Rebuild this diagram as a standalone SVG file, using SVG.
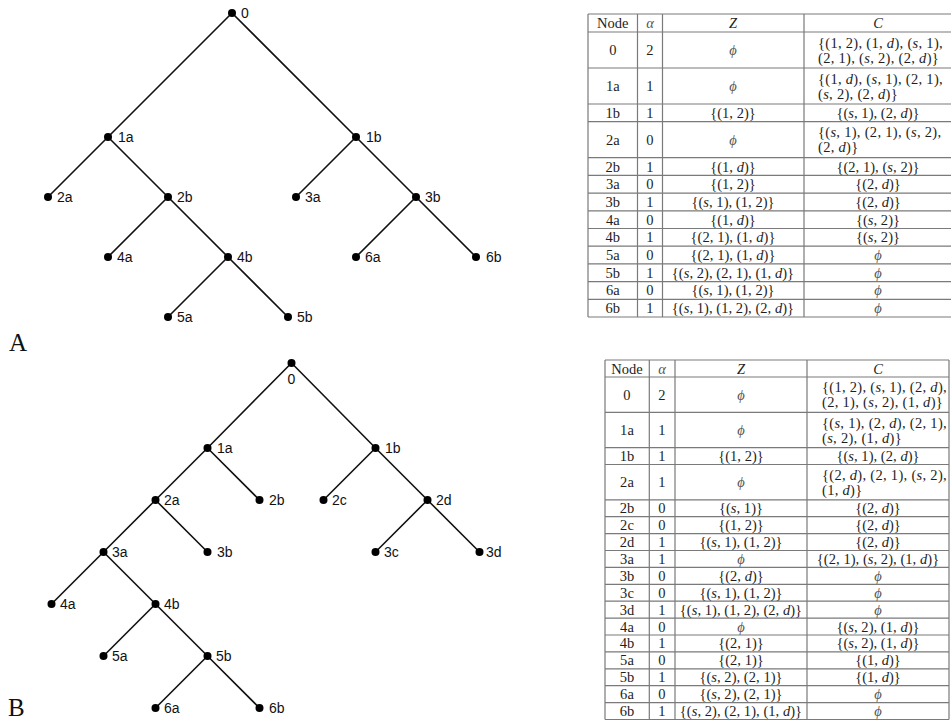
<svg xmlns="http://www.w3.org/2000/svg" width="951" height="721" viewBox="0 0 951 721">
<style>
.edge{stroke:#111;stroke-width:1.6;fill:none;stroke-linecap:round}
.dot{fill:#000}
.lbl{font-family:"Liberation Sans",Arial,sans-serif;font-size:14px;fill:#111}
.big{font-family:"Liberation Serif","Times New Roman",serif;font-size:25px;fill:#111}
.grid{stroke:#7a7a7a;stroke-width:1.2;fill:none}
.t{font-family:"Liberation Serif","DejaVu Serif",serif;font-size:14.5px;fill:#1e1e1e;text-anchor:middle;letter-spacing:0.05px}
.tl{font-family:"Liberation Serif","DejaVu Serif",serif;font-size:14.5px;fill:#1e1e1e;text-anchor:start;letter-spacing:0.3px}
.i{font-style:italic}
.g{fill:#555}
</style>
<rect width="951" height="721" fill="#fff"/>

<!-- ===== Tree A ===== -->
<g id="treeA-edges">
<path class="edge" d="M232,13L108,137M232,13L356,137M108,137L48,197M108,137L168,197M356,137L296,197M356,137L416,197M168,197L108,257M168,197L228,257M416,197L356,257M416,197L476,257M228,257L168,317M228,257L288,317"/>
</g>
<g id="A-0"><circle class="dot" cx="232" cy="13" r="4"/><text class="lbl" x="241" y="18">0</text></g>
<g id="A-1a"><circle class="dot" cx="108" cy="137" r="4"/><text class="lbl" x="118" y="142">1a</text></g>
<g id="A-1b"><circle class="dot" cx="356" cy="137" r="4"/><text class="lbl" x="366" y="142">1b</text></g>
<g id="A-2a"><circle class="dot" cx="48" cy="197" r="4"/><text class="lbl" x="57" y="202">2a</text></g>
<g id="A-2b"><circle class="dot" cx="168" cy="197" r="4"/><text class="lbl" x="177" y="202">2b</text></g>
<g id="A-3a"><circle class="dot" cx="296" cy="197" r="4"/><text class="lbl" x="305" y="202">3a</text></g>
<g id="A-3b"><circle class="dot" cx="416" cy="197" r="4"/><text class="lbl" x="425" y="202">3b</text></g>
<g id="A-4a"><circle class="dot" cx="108" cy="257" r="4"/><text class="lbl" x="117" y="262">4a</text></g>
<g id="A-4b"><circle class="dot" cx="228" cy="257" r="4"/><text class="lbl" x="237" y="262">4b</text></g>
<g id="A-6a"><circle class="dot" cx="356" cy="257" r="4"/><text class="lbl" x="365" y="262">6a</text></g>
<g id="A-6b"><circle class="dot" cx="476" cy="257" r="4"/><text class="lbl" x="486" y="262">6b</text></g>
<g id="A-5a"><circle class="dot" cx="168" cy="317" r="4"/><text class="lbl" x="177" y="322">5a</text></g>
<g id="A-5b"><circle class="dot" cx="288" cy="317" r="4"/><text class="lbl" x="297" y="322">5b</text></g>
<text class="big" x="9" y="351">A</text>

<!-- ===== Tree B ===== -->
<g id="treeB-edges">
<path class="edge" d="M291.5,363L207.5,448M291.5,363L375.5,448M207.5,448L155.5,500M207.5,448L259.5,500M375.5,448L323.5,500M375.5,448L427.5,500M155.5,500L103.5,552M155.5,500L207.5,552M427.5,500L375.5,552M427.5,500L479.5,552M103.5,552L51.5,604M103.5,552L155.5,604M155.5,604L103.5,656M155.5,604L207.5,656M207.5,656L155.5,708M207.5,656L259.5,708"/>
</g>
<g id="B-0"><circle class="dot" cx="291.5" cy="363" r="4"/><text class="lbl" x="291.5" y="384" text-anchor="middle">0</text></g>
<g id="B-1a"><circle class="dot" cx="207.5" cy="448" r="4"/><text class="lbl" x="217" y="453">1a</text></g>
<g id="B-1b"><circle class="dot" cx="375.5" cy="448" r="4"/><text class="lbl" x="385" y="453">1b</text></g>
<g id="B-2a"><circle class="dot" cx="155.5" cy="500" r="4"/><text class="lbl" x="164" y="505">2a</text></g>
<g id="B-2b"><circle class="dot" cx="259.5" cy="500" r="4"/><text class="lbl" x="269" y="505">2b</text></g>
<g id="B-2c"><circle class="dot" cx="323.5" cy="500" r="4"/><text class="lbl" x="332" y="505">2c</text></g>
<g id="B-2d"><circle class="dot" cx="427.5" cy="500" r="4"/><text class="lbl" x="436" y="505">2d</text></g>
<g id="B-3a"><circle class="dot" cx="103.5" cy="552" r="4"/><text class="lbl" x="112" y="557">3a</text></g>
<g id="B-3b"><circle class="dot" cx="207.5" cy="552" r="4"/><text class="lbl" x="217" y="557">3b</text></g>
<g id="B-3c"><circle class="dot" cx="375.5" cy="552" r="4"/><text class="lbl" x="384" y="557">3c</text></g>
<g id="B-3d"><circle class="dot" cx="479.5" cy="552" r="4"/><text class="lbl" x="486" y="557">3d</text></g>
<g id="B-4a"><circle class="dot" cx="51.5" cy="604" r="4"/><text class="lbl" x="60" y="609">4a</text></g>
<g id="B-4b"><circle class="dot" cx="155.5" cy="604" r="4"/><text class="lbl" x="164" y="609">4b</text></g>
<g id="B-5a"><circle class="dot" cx="103.5" cy="656" r="4"/><text class="lbl" x="112" y="661">5a</text></g>
<g id="B-5b"><circle class="dot" cx="207.5" cy="656" r="4"/><text class="lbl" x="216" y="661">5b</text></g>
<g id="B-6a"><circle class="dot" cx="155.5" cy="708" r="4"/><text class="lbl" x="164" y="713">6a</text></g>
<g id="B-6b"><circle class="dot" cx="259.5" cy="708" r="4"/><text class="lbl" x="269" y="713">6b</text></g>
<text class="big" x="8" y="716">B</text>

<!-- ===== Table A ===== -->
<g id="tableA">
<path class="grid" d="M588,14H955M588,32H955M588,68H955M588,104H955M588,121.7H955M588,157.7H955M588,175.4H955M588,193.1H955M588,210.8H955M588,228.5H955M588,246.2H955M588,263.9H955M588,281.6H955M588,299.3H955M588,317H955M588,14V317M637.5,14V317M662.5,14V317M804,14V317"/>
<text class="t" x="612.8" y="28">Node</text><text class="t i g" x="650" y="28">α</text><text class="t i" x="733" y="28">Z</text><text class="t i" x="878" y="28">C</text>

<text class="t" x="612.8" y="55">0</text><text class="t" x="650" y="55">2</text><text class="t i g" x="733" y="55">ϕ</text>
<text class="tl" x="818" y="47.5">{(1, 2), (1, <tspan class="i">d</tspan>), (<tspan class="i">s</tspan>, 1),</text>
<text class="tl" x="818" y="62.5">(2, 1), (<tspan class="i">s</tspan>, 2), (2, <tspan class="i">d</tspan>)}</text>

<text class="t" x="612.8" y="91">1a</text><text class="t" x="650" y="91">1</text><text class="t i g" x="733" y="91">ϕ</text>
<text class="tl" x="818" y="83.5">{(1, <tspan class="i">d</tspan>), (<tspan class="i">s</tspan>, 1), (2, 1),</text>
<text class="tl" x="818" y="98.5">(<tspan class="i">s</tspan>, 2), (2, <tspan class="i">d</tspan>)}</text>

<text class="t" x="612.8" y="117.8">1b</text><text class="t" x="650" y="117.8">1</text><text class="t" x="733" y="117.8">{(1, 2)}</text><text class="t" x="878" y="117.8">{(<tspan class="i">s</tspan>, 1), (2, <tspan class="i">d</tspan>)}</text>

<text class="t" x="612.8" y="144.7">2a</text><text class="t" x="650" y="144.7">0</text><text class="t i g" x="733" y="144.7">ϕ</text>
<text class="tl" x="818" y="137.2">{(<tspan class="i">s</tspan>, 1), (2, 1), (<tspan class="i">s</tspan>, 2),</text>
<text class="tl" x="818" y="152.2">(2, <tspan class="i">d</tspan>)}</text>

<text class="t" x="612.8" y="171.5">2b</text><text class="t" x="650" y="171.5">1</text><text class="t" x="733" y="171.5">{(1, <tspan class="i">d</tspan>)}</text><text class="t" x="878" y="171.5">{(2, 1), (<tspan class="i">s</tspan>, 2)}</text>
<text class="t" x="612.8" y="189.2">3a</text><text class="t" x="650" y="189.2">0</text><text class="t" x="733" y="189.2">{(1, 2)}</text><text class="t" x="878" y="189.2">{(2, <tspan class="i">d</tspan>)}</text>
<text class="t" x="612.8" y="206.9">3b</text><text class="t" x="650" y="206.9">1</text><text class="t" x="733" y="206.9">{(<tspan class="i">s</tspan>, 1), (1, 2)}</text><text class="t" x="878" y="206.9">{(2, <tspan class="i">d</tspan>)}</text>
<text class="t" x="612.8" y="224.6">4a</text><text class="t" x="650" y="224.6">0</text><text class="t" x="733" y="224.6">{(1, <tspan class="i">d</tspan>)}</text><text class="t" x="878" y="224.6">{(<tspan class="i">s</tspan>, 2)}</text>
<text class="t" x="612.8" y="242.3">4b</text><text class="t" x="650" y="242.3">1</text><text class="t" x="733" y="242.3">{(2, 1), (1, <tspan class="i">d</tspan>)}</text><text class="t" x="878" y="242.3">{(<tspan class="i">s</tspan>, 2)}</text>
<text class="t" x="612.8" y="260">5a</text><text class="t" x="650" y="260">0</text><text class="t" x="733" y="260">{(2, 1), (1, <tspan class="i">d</tspan>)}</text><text class="t i g" x="878" y="260">ϕ</text>
<text class="t" x="612.8" y="277.7">5b</text><text class="t" x="650" y="277.7">1</text><text class="t" x="733" y="277.7">{(<tspan class="i">s</tspan>, 2), (2, 1), (1, <tspan class="i">d</tspan>)}</text><text class="t i g" x="878" y="277.7">ϕ</text>
<text class="t" x="612.8" y="295.4">6a</text><text class="t" x="650" y="295.4">0</text><text class="t" x="733" y="295.4">{(<tspan class="i">s</tspan>, 1), (1, 2)}</text><text class="t i g" x="878" y="295.4">ϕ</text>
<text class="t" x="612.8" y="313.1">6b</text><text class="t" x="650" y="313.1">1</text><text class="t" x="733" y="313.1">{(<tspan class="i">s</tspan>, 1), (1, 2), (2, <tspan class="i">d</tspan>)}</text><text class="t i g" x="878" y="313.1">ϕ</text>
</g>

<!-- ===== Table B ===== -->
<g id="tableB">
<path class="grid" d="M605,360H949M605,377H949M605,412.3H949M605,447.6H949M605,464.5H949M605,499.8H949M605,516.7H949M605,533.6H949M605,550.5H949M605,567.4H949M605,584.3H949M605,601.2H949M605,618.1H949M605,635H949M605,651.9H949M605,668.8H949M605,685.7H949M605,702.6H949M605,719.5H949M605,360V719.5M649.3,360V719.5M675,360V719.5M807,360V719.5M949,360V719.5"/>
<text class="t" x="627" y="373.5">Node</text><text class="t i g" x="662" y="373.5">α</text><text class="t i" x="741" y="373.5">Z</text><text class="t i" x="878" y="373.5">C</text>

<text class="t" x="627" y="399.6">0</text><text class="t" x="662" y="399.6">2</text><text class="t i g" x="741" y="399.6">ϕ</text>
<text class="tl" x="822" y="392.1">{(1, 2), (<tspan class="i">s</tspan>, 1), (2, <tspan class="i">d</tspan>),</text>
<text class="tl" x="822" y="407.1">(2, 1), (<tspan class="i">s</tspan>, 2), (1, <tspan class="i">d</tspan>)}</text>

<text class="t" x="627" y="435">1a</text><text class="t" x="662" y="435">1</text><text class="t i g" x="741" y="435">ϕ</text>
<text class="tl" x="822" y="427.5">{(<tspan class="i">s</tspan>, 1), (2, <tspan class="i">d</tspan>), (2, 1),</text>
<text class="tl" x="822" y="442.5">(<tspan class="i">s</tspan>, 2), (1, <tspan class="i">d</tspan>)}</text>

<text class="t" x="627" y="461">1b</text><text class="t" x="662" y="461">1</text><text class="t" x="741" y="461">{(1, 2)}</text><text class="t" x="878" y="461">{(<tspan class="i">s</tspan>, 1), (2, <tspan class="i">d</tspan>)}</text>

<text class="t" x="627" y="487.2">2a</text><text class="t" x="662" y="487.2">1</text><text class="t i g" x="741" y="487.2">ϕ</text>
<text class="tl" x="822" y="479.6">{(2, <tspan class="i">d</tspan>), (2, 1), (<tspan class="i">s</tspan>, 2),</text>
<text class="tl" x="822" y="494.6">(1, <tspan class="i">d</tspan>)}</text>

<text class="t" x="627" y="513.2">2b</text><text class="t" x="662" y="513.2">0</text><text class="t" x="741" y="513.2">{(<tspan class="i">s</tspan>, 1)}</text><text class="t" x="878" y="513.2">{(2, <tspan class="i">d</tspan>)}</text>
<text class="t" x="627" y="530.1">2c</text><text class="t" x="662" y="530.1">0</text><text class="t" x="741" y="530.1">{(1, 2)}</text><text class="t" x="878" y="530.1">{(2, <tspan class="i">d</tspan>)}</text>
<text class="t" x="627" y="547">2d</text><text class="t" x="662" y="547">1</text><text class="t" x="741" y="547">{(<tspan class="i">s</tspan>, 1), (1, 2)}</text><text class="t" x="878" y="547">{(2, <tspan class="i">d</tspan>)}</text>
<text class="t" x="627" y="563.9">3a</text><text class="t" x="662" y="563.9">1</text><text class="t i g" x="741" y="563.9">ϕ</text><text class="t" x="878" y="563.9">{(2, 1), (<tspan class="i">s</tspan>, 2), (1, <tspan class="i">d</tspan>)}</text>
<text class="t" x="627" y="580.8">3b</text><text class="t" x="662" y="580.8">0</text><text class="t" x="741" y="580.8">{(2, <tspan class="i">d</tspan>)}</text><text class="t i g" x="878" y="580.8">ϕ</text>
<text class="t" x="627" y="597.7">3c</text><text class="t" x="662" y="597.7">0</text><text class="t" x="741" y="597.7">{(<tspan class="i">s</tspan>, 1), (1, 2)}</text><text class="t i g" x="878" y="597.7">ϕ</text>
<text class="t" x="627" y="614.6">3d</text><text class="t" x="662" y="614.6">1</text><text class="t" x="741" y="614.6">{(<tspan class="i">s</tspan>, 1), (1, 2), (2, <tspan class="i">d</tspan>)}</text><text class="t i g" x="878" y="614.6">ϕ</text>
<text class="t" x="627" y="631.5">4a</text><text class="t" x="662" y="631.5">0</text><text class="t i g" x="741" y="631.5">ϕ</text><text class="t" x="878" y="631.5">{(<tspan class="i">s</tspan>, 2), (1, <tspan class="i">d</tspan>)}</text>
<text class="t" x="627" y="648.4">4b</text><text class="t" x="662" y="648.4">1</text><text class="t" x="741" y="648.4">{(2, 1)}</text><text class="t" x="878" y="648.4">{(<tspan class="i">s</tspan>, 2), (1, <tspan class="i">d</tspan>)}</text>
<text class="t" x="627" y="665.3">5a</text><text class="t" x="662" y="665.3">0</text><text class="t" x="741" y="665.3">{(2, 1)}</text><text class="t" x="878" y="665.3">{(1, <tspan class="i">d</tspan>)}</text>
<text class="t" x="627" y="682.2">5b</text><text class="t" x="662" y="682.2">1</text><text class="t" x="741" y="682.2">{(<tspan class="i">s</tspan>, 2), (2, 1)}</text><text class="t" x="878" y="682.2">{(1, <tspan class="i">d</tspan>)}</text>
<text class="t" x="627" y="699.1">6a</text><text class="t" x="662" y="699.1">0</text><text class="t" x="741" y="699.1">{(<tspan class="i">s</tspan>, 2), (2, 1)}</text><text class="t i g" x="878" y="699.1">ϕ</text>
<text class="t" x="627" y="716">6b</text><text class="t" x="662" y="716">1</text><text class="t" x="741" y="716">{(<tspan class="i">s</tspan>, 2), (2, 1), (1, <tspan class="i">d</tspan>)}</text><text class="t i g" x="878" y="716">ϕ</text>
</g>
</svg>
